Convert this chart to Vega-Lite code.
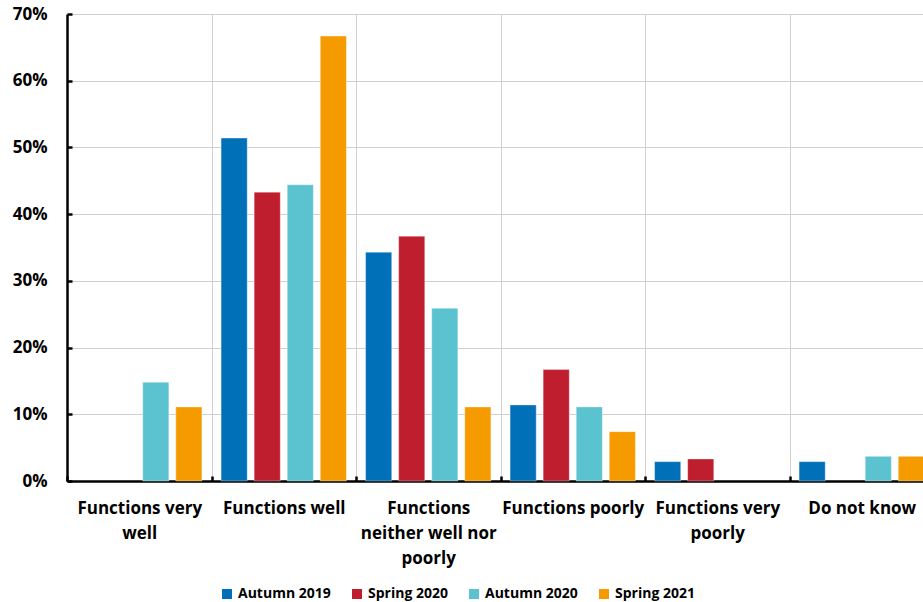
{
  "$schema": "https://vega.github.io/schema/vega-lite/v6.json",
  "width": 856,
  "height": 467,
  "autosize": "none",
  "padding": {"left": 67, "top": 14, "right": 0, "bottom": 121},
  "background": "white",
  "config": {
    "view": {"stroke": null},
    "font": "Open Sans",
    "axis": {"labelFont": "Open Sans", "labelFontWeight": "bold", "labelColor": "#000000", "labelFontSize": 17}
  },
  "data": {
    "values": [
      {"answer": "Functions very well", "survey": "Autumn 2020", "pct": 14.8},
      {"answer": "Functions very well", "survey": "Spring 2021", "pct": 11.1},
      {"answer": "Functions well", "survey": "Autumn 2019", "pct": 51.4},
      {"answer": "Functions well", "survey": "Spring 2020", "pct": 43.3},
      {"answer": "Functions well", "survey": "Autumn 2020", "pct": 44.4},
      {"answer": "Functions well", "survey": "Spring 2021", "pct": 66.7},
      {"answer": "Functions neither well nor poorly", "survey": "Autumn 2019", "pct": 34.3},
      {"answer": "Functions neither well nor poorly", "survey": "Spring 2020", "pct": 36.7},
      {"answer": "Functions neither well nor poorly", "survey": "Autumn 2020", "pct": 25.9},
      {"answer": "Functions neither well nor poorly", "survey": "Spring 2021", "pct": 11.1},
      {"answer": "Functions poorly", "survey": "Autumn 2019", "pct": 11.4},
      {"answer": "Functions poorly", "survey": "Spring 2020", "pct": 16.7},
      {"answer": "Functions poorly", "survey": "Autumn 2020", "pct": 11.1},
      {"answer": "Functions poorly", "survey": "Spring 2021", "pct": 7.4},
      {"answer": "Functions very poorly", "survey": "Autumn 2019", "pct": 2.9},
      {"answer": "Functions very poorly", "survey": "Spring 2020", "pct": 3.3},
      {"answer": "Do not know", "survey": "Autumn 2019", "pct": 2.9},
      {"answer": "Do not know", "survey": "Autumn 2020", "pct": 3.7},
      {"answer": "Do not know", "survey": "Spring 2021", "pct": 3.7}
    ]
  },
  "mark": {"type": "bar", "stroke": "white", "strokeWidth": 0.6, "strokeOpacity": 0.6},
  "encoding": {
    "x": {
      "field": "answer",
      "type": "nominal",
      "sort": ["Functions very well", "Functions well", "Functions neither well nor poorly", "Functions poorly", "Functions very poorly", "Do not know"],
      "scale": {"paddingInner": 0, "paddingOuter": 0, "range": [0, 867]},
      "axis": {
        "title": null,
        "labelAngle": 0,
        "bandPosition": 0,
        "domainColor": "#000000",
        "domainWidth": 2.5,
        "tickColor": "#000000",
        "tickWidth": 2.5,
        "tickSize": -5,
        "tickBand": "extent",
        "grid": true,
        "gridColor": "#d0d0d0",
        "gridWidth": 1,
        "labelPadding": 24,
        "labelLineHeight": 25,
        "labelBaseline": "top",
        "labelLimit": 0,
        "labelExpr": "datum.label == 'Functions very well' ? ['Functions very', 'well'] : datum.label == 'Functions neither well nor poorly' ? ['Functions', 'neither well nor', 'poorly'] : datum.label == 'Functions very poorly' ? ['Functions very', 'poorly'] : datum.label"
      }
    },
    "xOffset": {
      "field": "survey",
      "type": "nominal",
      "sort": ["Autumn 2019", "Spring 2020", "Autumn 2020", "Spring 2021"],
      "scale": {"paddingInner": 0.21, "paddingOuter": 0.29}
    },
    "y": {
      "field": "pct",
      "type": "quantitative",
      "scale": {"domain": [0, 70], "nice": false},
      "axis": {
        "title": null,
        "values": [0, 10, 20, 30, 40, 50, 60, 70],
        "labelExpr": "datum.value + '%'",
        "domainColor": "#000000",
        "domainWidth": 2.5,
        "tickColor": "#000000",
        "tickWidth": 2.5,
        "tickSize": -5,
        "labelPadding": 25,
        "grid": true,
        "gridColor": "#d0d0d0",
        "gridWidth": 1
      }
    },
    "color": {
      "field": "survey",
      "type": "nominal",
      "sort": ["Autumn 2019", "Spring 2020", "Autumn 2020", "Spring 2021"],
      "scale": {
        "domain": ["Autumn 2019", "Spring 2020", "Autumn 2020", "Spring 2021"],
        "range": ["#0070B8", "#BE1E2D", "#5BC3D0", "#F59B00"]
      },
      "legend": {
        "title": null,
        "orient": "none",
        "direction": "horizontal",
        "legendX": 153,
        "legendY": 573,
        "symbolType": "square",
        "symbolSize": 100,
        "symbolStrokeWidth": 0,
        "labelFont": "Open Sans",
        "labelFontWeight": "bold",
        "labelFontSize": 14,
        "labelColor": "#000000",
        "columnPadding": 19,
        "labelOffset": 4
      }
    }
  }
}
